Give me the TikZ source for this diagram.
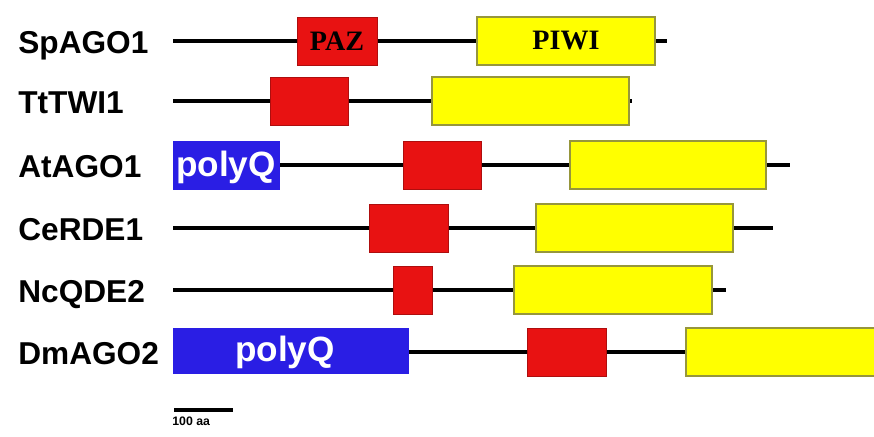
\documentclass[tikz,border=0pt]{standalone}
\usepackage{fontspec}
\setmainfont{Liberation Sans}
\newfontfamily\domfont{Liberation Serif}
\usetikzlibrary{calc}

\definecolor{pazred}{RGB}{232,18,18}
\definecolor{piwiyellow}{RGB}{255,255,0}
\definecolor{piwiedge}{RGB}{150,150,60}
\definecolor{polyblue}{RGB}{42,30,228}

\begin{document}
\begin{tikzpicture}[x=0.02cm, y=-0.02cm,
    backbone/.style={line width=2.4pt},
    pazbox/.style={draw=pazred!75!black, fill=pazred, line width=0.5pt},
    piwibox/.style={draw=piwiedge, fill=piwiyellow, line width=0.6pt},
    polybox/.style={fill=polyblue},
    protname/.style={anchor=base west, inner sep=0pt, font=\fontsize{18}{20}\selectfont\bfseries},
    domlabel/.style={inner sep=0pt, font=\fontsize{16}{18}\selectfont\domfont\bfseries},
    polylabel/.style={inner sep=0pt, text=white, font=\fontsize{20}{22}\selectfont\bfseries}]
    \clip (0,0) rectangle (874,436);

    % Protein names and backbones
    \foreach \name/\y/\xend in {SpAGO1/41/667, TtTWI1/101/632, AtAGO1/165/790,
                                CeRDE1/228/773, NcQDE2/290/726, DmAGO2/352/880} {
        \node[protname] (\name) at (18,\y+12) {\name};
        \coordinate (\name-start) at (173,\y);
        \coordinate (\name-end) at (\xend,\y);
        \draw[backbone] (\name-start) -- (\name-end);
    }

    % PAZ domains
    \foreach \y/\xa/\xb in {41/297/377, 101/270/348, 165/403/481,
                            228/369/448, 290/393/432, 352/527/606}
        \draw[pazbox] (\xa,\y-24) rectangle (\xb,\y+24);

    % PIWI domains
    \foreach \y/\xa/\xb in {41/477/655, 101/432/629, 165/570/766,
                            228/536/733, 290/514/712, 352/686/900}
        \draw[piwibox] (\xa,\y-24) rectangle (\xb,\y+24);

    % polyQ stretches
    \fill[polybox] (173,141) rectangle (280,190);
    \fill[polybox] (173,328) rectangle (409,374);
    \node[polylabel] (polyAt) at (226,167) {polyQ};
    \node[polylabel] (polyDm) at (285,352) {polyQ};

    \node[domlabel] (paz) at (337,41) {PAZ};
    \node[domlabel] (piwi) at (566,41) {PIWI};

    % Scale bar
    \coordinate (bar-a) at (174,410);
    \coordinate (bar-b) at (233,410);
    \draw[line width=2.2pt] (bar-a) -- (bar-b);
    \node[anchor=north west, inner sep=0pt, font=\fontsize{7}{8}\selectfont\bfseries] (barlabel) at (172,417) {100 aa};
\end{tikzpicture}
\end{document}
